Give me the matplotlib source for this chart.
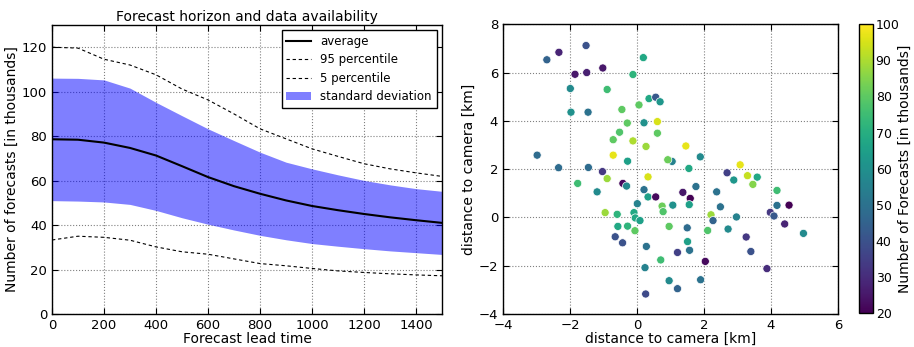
import numpy as np
import matplotlib
matplotlib.use("Agg")
import matplotlib.pyplot as plt

# ---- left panel data ----
lead_time = [0, 100, 200, 300, 400, 500, 600, 700, 800, 900, 1000, 1100, 1200, 1300, 1400, 1500]
average = [78.6, 78.4, 77.1, 74.7, 71.3, 66.5, 61.6, 57.5, 54.1, 51.1, 48.6, 46.7, 45.0, 43.5, 42.2, 41.0]
std_upper = [106.1, 106.0, 105.3, 101.6, 95.2, 89.2, 83.3, 78.0, 72.8, 68.3, 65.3, 62.6, 60.1, 58.1, 56.4, 55.2]
std_lower = [51.0, 50.8, 50.4, 49.3, 46.6, 43.3, 40.4, 37.8, 35.4, 33.4, 31.7, 30.5, 29.4, 28.4, 27.6, 26.8]
p95 = [120.0, 119.6, 114.6, 112.0, 107.6, 101.2, 96.3, 90.0, 83.3, 78.8, 74.3, 70.9, 67.6, 65.3, 63.5, 61.9]
p5 = [33.3, 35.0, 34.5, 33.2, 30.2, 28.0, 26.9, 24.8, 22.7, 21.7, 20.5, 19.4, 18.7, 18.1, 17.6, 17.2]

# ---- right panel data ----
pos_x = [-2.69, -2.33, -1.52, -1.85, -1.50, -1.02, 0.19, -0.12, -1.99, -0.89,
         -1.97, -1.46, -0.45, 0.06, 0.36, 0.56, 0.69, -0.29, 0.21, 0.61,
         -0.52, 0.61, -0.71, -0.12, 0.27, -2.98, -0.71, -0.28, 1.05, 0.92,
         1.46, 1.89, 3.08, -2.34, -1.45, -1.03, 0.33, -1.77, -0.89, -0.42,
         -0.31, -1.19, 0.21, 0.33, 0.56, 0.01, 0.75, 0.78, -0.95, -0.59,
         -0.09, -0.05, 0.09, -0.57, -0.28, -0.06, 0.96, -0.65, -0.43, 0.28,
         0.71, 0.24, 0.96, 0.26, 1.55, 2.69, 2.89, 3.30, 3.59, 3.46,
         1.76, 1.37, 1.59, 2.38, 4.18, 1.07, 1.56, 2.49, 2.21, 2.27,
         2.97, 4.18, 4.54, 3.98, 4.09, 4.41, 4.97, 1.50, 2.11, 2.72,
         3.26, 1.51, 1.57, 1.21, 3.40, 2.04, 3.88, 1.90, 1.21]
pos_y = [6.53, 6.84, 7.12, 5.93, 6.00, 6.19, 6.62, 5.92, 5.34, 5.30,
         4.36, 4.36, 4.47, 4.66, 4.92, 4.98, 4.79, 3.91, 3.92, 3.97,
         3.53, 3.49, 3.22, 3.17, 2.94, 2.58, 2.58, 2.33, 2.32, 2.39,
         2.96, 2.51, 2.18, 2.06, 2.07, 1.90, 1.68, 1.41, 1.61, 1.41,
         1.30, 1.06, 1.15, 0.85, 0.85, 0.57, 0.47, 0.24, 0.20, 0.13,
         0.20, -0.02, -0.13, -0.37, -0.36, -0.55, -0.37, -0.80, -1.05, -1.20,
         -1.76, -2.08, -2.62, -3.17, 2.03, 1.85, 1.55, 1.73, 1.67, 1.37,
         1.28, 1.04, 0.79, 1.06, 1.12, 0.51, 0.53, 0.44, 0.11, -0.13,
         0.02, 0.50, 0.51, 0.21, 0.06, -0.27, -0.66, -0.43, -0.54, -0.48,
         -0.81, -1.00, -1.36, -1.45, -1.41, -1.82, -2.12, -2.58, -2.95]
n_forecasts = [45, 28, 40, 25, 27, 25, 68, 72, 58, 75,
               60, 50, 80, 80, 68, 42, 62, 80, 60, 95,
               78, 80, 80, 90, 88, 48, 97, 65, 55, 82,
               97, 58, 97, 48, 48, 33, 95, 75, 88, 22,
               58, 58, 50, 65, 22, 55, 82, 78, 88, 72,
               68, 68, 65, 68, 72, 80, 80, 40, 40, 50,
               75, 55, 58, 38, 68, 35, 62, 93, 68, 85,
               50, 25, 20, 50, 75, 60, 65, 50, 88, 45,
               55, 50, 20, 33, 42, 28, 58, 48, 78, 58,
               33, 65, 50, 35, 40, 22, 30, 50, 45]

plt.rcParams['font.family'] = ['DejaVu Sans']
plt.rcParams['font.size'] = 9

fig = plt.figure(figsize=(9.14, 3.47), dpi=100)
fig.patch.set_facecolor('white')

def style_axes(ax):
    ax.grid(True, linestyle=':', color='gray', linewidth=0.8)
    ax.set_axisbelow(True)
    ax.tick_params(direction='in', top=True, right=True, length=4, labelsize=9.5)
    for s in ax.spines.values():
        s.set_linewidth(1.0)

# left
ax1 = fig.add_axes([0.0569, 0.095, 0.4267, 0.833])
ax1.fill_between(lead_time, std_lower, std_upper, color='blue', alpha=0.5, linewidth=0,
                 label='standard deviation')
ax1.plot(lead_time, average, color='black', linewidth=1.5, label='average')
ax1.plot(lead_time, p95, color='black', linestyle=(0, (3, 2.5)), linewidth=0.8, label='95 percentile')
ax1.plot(lead_time, p5, color='black', linestyle=(0, (3, 2.5)), linewidth=0.8, label='5 percentile')
ax1.set_xlim(0, 1500)
ax1.set_ylim(0, 130)
ax1.set_xticks(np.arange(0, 1401, 200))
ax1.set_yticks(np.arange(0, 121, 20))
style_axes(ax1)
ax1.set_title('Forecast horizon and data availability', fontsize=10, pad=3)
ax1.set_xlabel('Forecast lead time', fontsize=10, labelpad=0)
ax1.set_ylabel('Number of forecasts [in thousands]', fontsize=10, labelpad=2)
h, l = ax1.get_legend_handles_labels()
order = [1, 2, 3, 0]
leg = ax1.legend([h[i] for i in order], [l[i] for i in order], loc='upper right',
                 fancybox=False, edgecolor='black', fontsize=8.5, framealpha=1,
                 borderaxespad=0.45, handlelength=2.1, labelspacing=0.45)
leg.get_frame().set_linewidth(1.0)

# right
ax2 = fig.add_axes([0.5503, 0.095, 0.3665, 0.835])
sc = ax2.scatter(pos_x, pos_y, c=n_forecasts, cmap='viridis', vmin=20, vmax=100,
                 s=34, edgecolors='white', linewidths=0.5, zorder=3)
ax2.set_xlim(-4, 6)
ax2.set_ylim(-4, 8)
ax2.set_xticks(np.arange(-4, 7, 2))
ax2.set_yticks(np.arange(-4, 9, 2))
style_axes(ax2)
ax2.set_xlabel('distance to camera [km]', fontsize=10, labelpad=0)
ax2.set_ylabel('distance to camera [km]', fontsize=10, labelpad=2)

cax = fig.add_axes([0.9398, 0.098, 0.0153, 0.832])
cb = fig.colorbar(sc, cax=cax)
cb.set_ticks(np.arange(20, 101, 10))
cb.ax.tick_params(labelsize=9, direction='in', length=0, pad=2)
cb.outline.set_linewidth(1.0)
cb.set_label('Number of Forecasts [in thousands]', fontsize=10, labelpad=-1)

fig.savefig('out.png', dpi=100, facecolor='white')
